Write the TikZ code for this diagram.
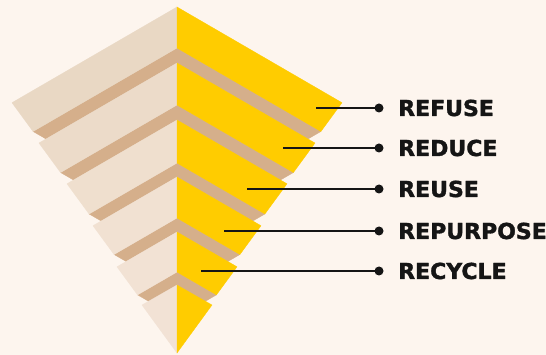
\documentclass[tikz,border=0pt]{standalone}
\usepackage{fontspec}
\newfontfamily\lblfont[FakeBold=1.6]{DejaVu Sans Bold}
\definecolor{bg}{HTML}{FDF5EE}
\definecolor{tanc}{HTML}{D5AF8B}
\definecolor{yel}{HTML}{FFCC00}
\definecolor{beigeA}{HTML}{E9D8C4}
\definecolor{beigeB}{HTML}{ECDBC9}
\definecolor{beigeC}{HTML}{EFDFCE}
\definecolor{beigeD}{HTML}{F1E1D2}
\definecolor{beigeE}{HTML}{F2E2D4}
\definecolor{beigeF}{HTML}{F2E2D5}
\definecolor{ink}{HTML}{151515}
\tikzset{
  leader/.style={draw=ink, line width=1.5pt},
  dotnode/.style={circle, fill=ink, minimum size=9pt, inner sep=0pt},
  lbl/.style={anchor=base west, inner sep=0pt, text=ink, font=\lblfont\fontsize{22}{26}\selectfont},
}
\begin{document}
\begin{tikzpicture}[x=1pt,y=-1pt]
\fill[bg] (0,0) rectangle (546,355);
\useasboundingbox (0,0) rectangle (546,355);
\pgfmathsetmacro{\myS}{0.58}
\foreach \yt/\yb/\yn/\w/\col in {7/48/63/165/beigeA, 63/105/120/138/beigeB, 120/163/177/110/beigeC, 177/218/232/84/beigeD, 232/272/285/60/beigeE}{
  \pgfmathsetmacro{\myT}{(\yb-\yt)/(4.1+3*\myS)}
  \pgfmathsetmacro{\myCx}{177-\w}
  \pgfmathsetmacro{\myCy}{\yt+\myS*\w}
  \pgfmathsetmacro{\myBx}{177-\w+3*\myT}
  \pgfmathsetmacro{\myBy}{\yb+\myS*(\w-3*\myT)}
  \pgfmathsetmacro{\myU}{\yn-\yb}
  \pgfmathsetmacro{\myPx}{\myBx+0.866*\myU}
  \pgfmathsetmacro{\myPy}{\myBy+0.5*\myU}
  \pgfmathsetmacro{\myRCx}{354-\myCx}
  \pgfmathsetmacro{\myRBx}{354-\myBx}
  \pgfmathsetmacro{\myRPx}{354-\myPx}
  % tan strips
  \filldraw[tanc, line width=0.3pt] (\myBx,\myBy) -- (177,\yb) -- (177,\yn) -- (\myPx,\myPy) -- cycle;
  \filldraw[tanc, line width=0.3pt] (\myRBx,\myBy) -- (177,\yb) -- (177,\yn) -- (\myRPx,\myPy) -- cycle;
  % faces
  \filldraw[\col, line width=0.3pt] (177,\yt) -- (\myCx,\myCy) -- (\myBx,\myBy) -- (177,\yb) -- cycle;
  \filldraw[yel, line width=0.3pt] (177,\yt) -- (\myRCx,\myCy) -- (\myRBx,\myBy) -- (177,\yb) -- cycle;
}
% bottom tip
\filldraw[beigeF, line width=0.3pt] (177,285) -- (142,305) -- (177,353) -- cycle;
\filldraw[yel, line width=0.3pt] (177,285) -- (212,305) -- (177,353) -- cycle;
% leaders and labels
\foreach \i/\sx/\y/\txt in {1/316/108/REFUSE, 2/283/148/REDUCE, 3/247/189/REUSE, 4/224/231/REPURPOSE, 5/201/271/RECYCLE}{
  \coordinate (s\i) at (\sx,\y);
  \node[dotnode] (d\i) at (379,\y) {};
  \node[lbl] (t\i) at (398,\y+8) {\txt};
  \draw[leader] (s\i) -- (d\i.center);
}
\end{tikzpicture}
\end{document}
